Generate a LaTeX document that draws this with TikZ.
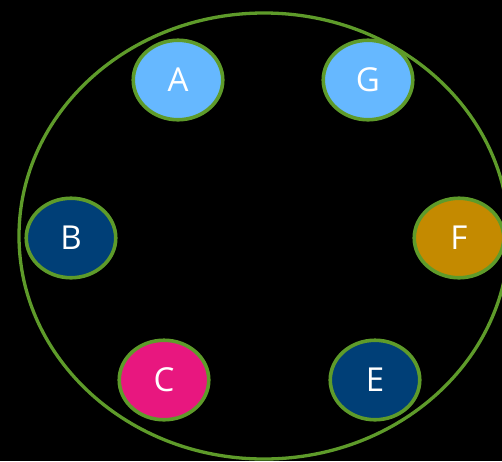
\documentclass[tikz,border=0pt]{standalone}
\usepackage{fontspec}
\setmainfont{Open Sans}
\usetikzlibrary{shapes.geometric}
\definecolor{ringgreen}{HTML}{5E9B2A}
\definecolor{lightblue}{HTML}{66B8FF}
\definecolor{darkblue}{HTML}{003F77}
\definecolor{pinkc}{HTML}{E8177F}
\definecolor{goldc}{HTML}{C48A00}
\begin{document}
\begin{tikzpicture}[x=1pt,y=-1pt,
  member/.style={ellipse, draw=ringgreen, line width=3.6pt, minimum width=89.5pt, minimum height=79.5pt, inner sep=0pt, text=white, font=\fontsize{33}{33}\selectfont}]
\fill[black] (0,0) rectangle (502,461);
\useasboundingbox (0,0) rectangle (502,461);
\node[ellipse, draw=ringgreen, line width=3.3pt, minimum width=490pt, minimum height=446pt, inner sep=0pt] (ring) at (264,236) {};
\node[member, fill=lightblue] (A) at (178,80) {A};
\node[member, fill=lightblue] (G) at (368,80) {G};
\node[member, fill=darkblue] (B) at (71,238) {B};
\node[member, fill=goldc] (F) at (459,238) {F};
\node[member, fill=pinkc] (C) at (164,380) {C};
\node[member, fill=darkblue] (E) at (375,380) {E};
\end{tikzpicture}
\end{document}
